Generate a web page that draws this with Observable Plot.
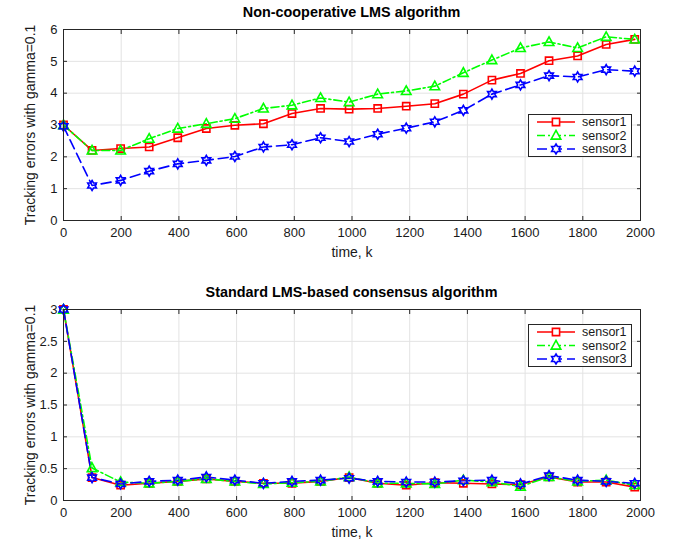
<!DOCTYPE html>
<html>
<head>
<meta charset="utf-8">
<script src="https://cdn.jsdelivr.net/npm/d3@7"></script>
<script src="https://cdn.jsdelivr.net/npm/@observablehq/plot@0.6"></script>
<style>
  html, body { margin: 0; padding: 0; background: #fff; }
  #root { position: relative; width: 675px; height: 546px; font-family: "Liberation Sans", Arial, Helvetica, sans-serif; }
  .ttl { position: absolute; left: 63px; width: 577px; text-align: center; font-weight: bold; font-size: 14.4px; line-height: 16px; color: #000; }
  .chart { position: absolute; left: 0; }
  .legend { position: absolute; }
</style>
</head>
<body>
<div id="root"></div>
<script>
// ---- data ----
const ks = [0, 99, 198, 297, 396, 495, 594, 693, 792, 891, 990, 1089, 1188, 1287, 1386, 1485, 1584, 1683, 1782, 1881, 1980];

const topSensor1 = [3.00, 2.20, 2.26, 2.31, 2.60, 2.89, 2.99, 3.04, 3.36, 3.52, 3.50, 3.52, 3.59, 3.67, 3.97, 4.41, 4.62, 5.02, 5.17, 5.53, 5.69];
const topSensor2 = [3.00, 2.20, 2.20, 2.57, 2.89, 3.04, 3.20, 3.52, 3.62, 3.85, 3.72, 3.97, 4.07, 4.22, 4.64, 5.04, 5.42, 5.61, 5.42, 5.77, 5.69];
const topSensor3 = [2.96, 1.10, 1.26, 1.55, 1.78, 1.89, 2.01, 2.31, 2.38, 2.60, 2.48, 2.71, 2.90, 3.10, 3.46, 3.97, 4.26, 4.55, 4.51, 4.74, 4.69];

const botSensor1 = [3.00, 0.36, 0.24, 0.27, 0.30, 0.34, 0.30, 0.27, 0.27, 0.30, 0.36, 0.27, 0.24, 0.28, 0.27, 0.26, 0.25, 0.37, 0.29, 0.29, 0.21];
const botSensor2 = [3.00, 0.51, 0.29, 0.27, 0.30, 0.34, 0.30, 0.26, 0.28, 0.30, 0.37, 0.27, 0.27, 0.26, 0.32, 0.29, 0.22, 0.37, 0.30, 0.32, 0.24];
const botSensor3 = [3.00, 0.36, 0.26, 0.30, 0.32, 0.37, 0.32, 0.27, 0.30, 0.32, 0.35, 0.30, 0.29, 0.29, 0.31, 0.32, 0.26, 0.39, 0.32, 0.30, 0.27];

const seriesNames = ["sensor1", "sensor2", "sensor3"];
const xTicks = [0, 200, 400, 600, 800, 1000, 1200, 1400, 1600, 1800, 2000];
const topYTicks = [0, 1, 2, 3, 4, 5, 6];
const botYTicks = [0, 0.5, 1, 1.5, 2, 2.5, 3];

const titles = ["Non-cooperative LMS algorithm", "Standard LMS-based consensus algorithm"];
const xLabel = "time, k";
const yLabel = "Tracking errors with gamma=0.1";

// ---- styles ----
const colors = ["#ff0000", "#00ff00", "#0000ff"];
const dashes = [null, "8,3,2,3", "10,5"];

const squareSym = { draw(ctx, size) { const h = Math.sqrt(size / Math.PI); ctx.moveTo(-h, -h); ctx.lineTo(h, -h); ctx.lineTo(h, h); ctx.lineTo(-h, h); ctx.closePath(); } };
const triangleSym = { draw(ctx, size) { const r = Math.sqrt(size / Math.PI); ctx.moveTo(0, -r * 1.05); ctx.lineTo(r, r * 0.75); ctx.lineTo(-r, r * 0.75); ctx.closePath(); } };
const hexagramSym = { draw(ctx, size) {
  const R = Math.sqrt(size / Math.PI), ri = R / Math.sqrt(3);
  for (let i = 0; i < 12; i++) {
    const a = -Math.PI / 2 + i * Math.PI / 6, rr = i % 2 === 0 ? R : ri;
    const px = rr * Math.cos(a), py = rr * Math.sin(a);
    if (i === 0) ctx.moveTo(px, py); else ctx.lineTo(px, py);
  }
  ctx.closePath();
} };
const symbols = [squareSym, triangleSym, hexagramSym];
const radii = [3.6, 4.8, 5.0];

function makeRows(vals) {
  const rows = [];
  vals.forEach((arr, s) => arr.forEach((v, i) => rows.push({k: ks[i], v, s})));
  return rows;
}

function makeChart(vals, yDomain, yTicks, height) {
  const rows = makeRows(vals);
  const fmt = d => String(d);
  const marks = [
    Plot.gridX(xTicks, {stroke: "#e3e3e3", strokeOpacity: 1}),
    Plot.gridY(yTicks, {stroke: "#e3e3e3", strokeOpacity: 1}),
    // inward ticks
    Plot.axisX(xTicks, {anchor: "bottom", tickSize: -4, tickFormat: () => "", label: null, stroke: "#262626"}),
    Plot.axisX(xTicks, {anchor: "top", tickSize: -4, tickFormat: () => "", label: null, stroke: "#262626"}),
    Plot.axisY(yTicks, {anchor: "left", tickSize: -4, tickFormat: () => "", label: null, stroke: "#262626"}),
    Plot.axisY(yTicks, {anchor: "right", tickSize: -4, tickFormat: () => "", label: null, stroke: "#262626"}),
    // labels
    Plot.axisX(xTicks, {anchor: "bottom", tickSize: 0, tickPadding: 7, tickFormat: fmt, label: null, fontSize: 13, fill: "#1a1a1a"}),
    Plot.axisY(yTicks, {anchor: "left", tickSize: 0, tickPadding: 6, tickFormat: fmt, label: null, fontSize: 13, fill: "#1a1a1a"}),
    Plot.text([xLabel], {text: d => d, frameAnchor: "bottom", textAnchor: "middle", dy: 36, fontSize: 14, fill: "#1a1a1a"}),
    Plot.text([yLabel], {text: d => d, frameAnchor: "left", textAnchor: "middle", dx: -33, rotate: -90, fontSize: 14, fill: "#1a1a1a"})
  ];
  for (let s = 0; s < 3; s++) {
    const data = rows.filter(r => r.s === s);
    marks.push(Plot.line(data, {x: "k", y: "v", stroke: colors[s], strokeWidth: 1.6, strokeDasharray: dashes[s]}));
  }
  for (let s = 0; s < 3; s++) {
    const data = rows.filter(r => r.s === s);
    marks.push(Plot.dot(data, {x: "k", y: "v", stroke: colors[s], strokeWidth: 1.6, fill: "none", symbol: () => symbols[s], r: radii[s]}));
  }
  marks.push(Plot.frame({stroke: "#262626", strokeWidth: 1}));
  return Plot.plot({
    width: 675,
    height,
    marginLeft: 63,
    marginRight: 35,
    marginTop: 7,
    marginBottom: height - 7 - 191,
    style: {fontFamily: '"Liberation Sans", Arial, Helvetica, sans-serif', background: "white", overflow: "visible"},
    x: {domain: [0, 2000], axis: null},
    y: {domain: yDomain, axis: null},
    symbol: {type: "identity"},
    marks
  });
}

function makeLegend(left, top) {
  const w = 104, h = 43;
  const svg = d3.create("svg").attr("width", w).attr("height", h).attr("class", "legend")
    .style("left", left + "px").style("top", top + "px")
    .style("font-family", '"Liberation Sans", Arial, Helvetica, sans-serif');
  svg.append("rect").attr("x", 0.5).attr("y", 0.5).attr("width", w - 1).attr("height", h - 1)
    .attr("fill", "white").attr("stroke", "#262626");
  seriesNames.forEach((name, s) => {
    const cy = 8 + s * 13.5;
    svg.append("line").attr("x1", 9).attr("x2", 47).attr("y1", cy).attr("y2", cy)
      .attr("stroke", colors[s]).attr("stroke-width", 1.6).attr("stroke-dasharray", dashes[s]);
    svg.append("path").attr("transform", `translate(28,${cy})`)
      .attr("d", d3.symbol(symbols[s], radii[s] * radii[s] * Math.PI)())
      .attr("fill", "white").attr("stroke", colors[s]).attr("stroke-width", 1.6);
    svg.append("text").attr("x", 54).attr("y", cy).attr("dy", "0.35em")
      .attr("font-size", 12.5).attr("fill", "#1a1a1a").text(name);
  });
  return svg.node();
}

const root = document.getElementById("root");

const t1 = document.createElement("div"); t1.className = "ttl"; t1.style.top = "4px"; t1.textContent = titles[0]; root.appendChild(t1);
const c1 = makeChart([topSensor1, topSensor2, topSensor3], [0, 6], topYTicks, 251);
c1.classList.add("chart"); c1.style.top = "22px"; c1.style.position = "absolute"; root.appendChild(c1);

const t2 = document.createElement("div"); t2.className = "ttl"; t2.style.top = "284px"; t2.textContent = titles[1]; root.appendChild(t2);
const c2 = makeChart([botSensor1, botSensor2, botSensor3], [0, 3], botYTicks, 244);
c2.classList.add("chart"); c2.style.top = "302px"; c2.style.position = "absolute"; root.appendChild(c2);

root.appendChild(makeLegend(528, 114));
root.appendChild(makeLegend(528, 324));
</script>
</body>
</html>
